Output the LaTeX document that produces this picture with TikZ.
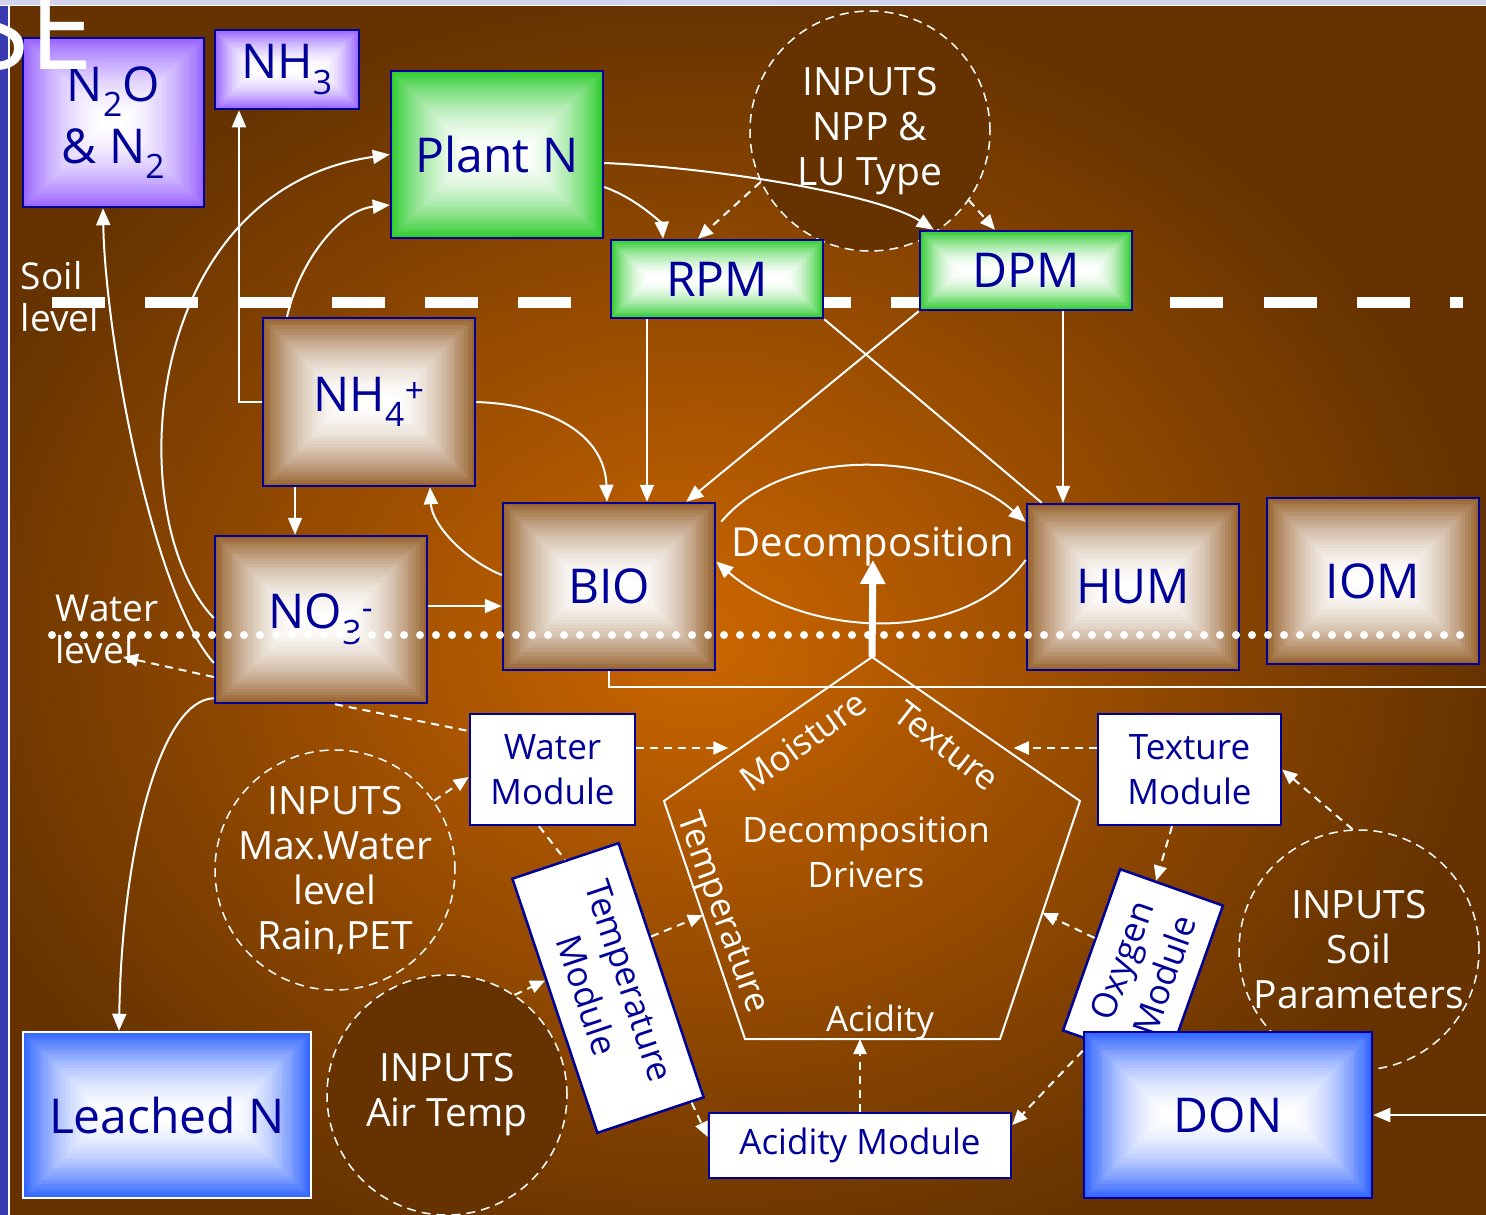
\documentclass[tikz,border=0pt]{standalone}
\usepackage{fontspec}
\setmainfont{Open Sans}
\usetikzlibrary{positioning,calc,arrows.meta}

\definecolor{bgdark}{HTML}{663300}
\definecolor{bgmid}{HTML}{CC6600}
\definecolor{boxline}{HTML}{000099}
\definecolor{boxtext}{HTML}{000099}
\definecolor{brownbox}{HTML}{996633}
\definecolor{purplebox}{HTML}{9966FF}
\definecolor{greenbox}{HTML}{33CC33}
\definecolor{bluebox}{HTML}{3366FF}
\definecolor{stripblue}{HTML}{3A3AB0}
\definecolor{striplav}{HTML}{D4D4EE}

\newcommand\bigfont{\fontsize{48}{62}\selectfont}
\newcommand\modfont{\fontsize{35}{45}\selectfont}
\newcommand\inpfont{\fontsize{39}{45}\selectfont}
\newcommand\lvlfont{\fontsize{37}{42}\selectfont}
\newcommand\decfont{\fontsize{40}{44}\selectfont}
\newcommand\titlefont{\fontsize{115}{120}\selectfont}

\tikzset{
  glowbox/.style={draw=boxline, line width=2.5pt, inner sep=0pt, text=boxtext,
    font=\bigfont, align=center,
    path picture={
      \foreach \i in {0,...,29}{
        \pgfmathsetmacro\pct{100*(1-\i/30)^1.8}
        \fill[#1!\pct!white] let \p1=(path picture bounding box.south west),
          \p2=(path picture bounding box.north east), \n1={\i*(\y2-\y1)/60}
          in (\x1+\n1,\y1+\n1) rectangle (\x2-\n1,\y2-\n1);
      }
    }},
  modbox/.style={draw=boxline, fill=white, line width=2.5pt, inner sep=0pt,
    text=boxtext, font=\modfont, align=center},
  inputs/.style={circle, draw=white, line width=1.5pt, dash pattern=on 9pt off 6pt,
    minimum size=240, inner sep=-25pt, text=white, font=\inpfont, align=center},
  drvlbl/.style={text=white, font=\modfont, align=center, inner sep=0pt},
  lvl/.style={text=white, font=\lvlfont, align=left, inner sep=0pt},
  link/.style={draw=white, line width=2pt},
  flow/.style={link, -{Triangle[length=17pt,width=14pt]}},
  hintline/.style={draw=white, line width=2pt, dash pattern=on 8pt off 6pt},
  hint/.style={hintline, -{Triangle[length=15pt,width=13pt]}},
  soilline/.style={white, line width=11pt, dash pattern=on 53pt off 40.2pt},
  waterline/.style={white, line width=8pt, line cap=round, dash pattern=on 0pt off 16pt},
}

\begin{document}
\begin{tikzpicture}[x=1pt,y=-1pt]
\useasboundingbox (0,0) rectangle (1486,1215);
% backdrop
\begin{scope}
\clip (0,0) rectangle (1486,1215);
\fill[bgdark] (0,0) rectangle (1486,1215);
\shade[inner color=bgmid, outer color=bgdark] (-80,0) rectangle (1480,1280);
\end{scope}
\fill[stripblue] (0,0) rectangle (8,1215);
\draw[white, line width=2pt] (9,0) -- (9,1215);
\fill[striplav] (0,0) rectangle (1486,5);
\draw[white, line width=1.5pt] (0,5.5) -- (1486,5.5);

% soil surface
\draw[soilline] (52,302) -- (1463,302);

% input circles
\node[inputs, fill=bgdark] (inpnpp) at (870,131) {INPUTS\\NPP \&\\LU Type};
\node[inputs] (inpwater) at (335,870) {INPUTS\\Max.Water\\level\\Rain,PET};
\node[inputs, fill=bgdark] (inpair) at (447,1095) {INPUTS\\Air Temp};
\node[inputs] (inpsoil) at (1359,950) {INPUTS\\Soil\\Parameters};

% pools
\node[glowbox=purplebox, minimum width=181, minimum height=169] (ntwoo) at (113.5,122.5) {N\textsubscript{2}O\\\& N\textsubscript{2}};
\node[glowbox=purplebox, minimum width=144, minimum height=79] (nhthree) at (287,69.5) {NH\textsubscript{3}};
\node[glowbox=greenbox, minimum width=212, minimum height=167] (plantn) at (497,154.5) {Plant N};
\node[glowbox=greenbox, minimum width=212, minimum height=78] (rpm) at (717,279) {RPM};
\node[glowbox=greenbox, minimum width=212, minimum height=79] (dpm) at (1026,270.5) {DPM};
\node[glowbox=brownbox, minimum width=212, minimum height=168] (nhfour) at (369,402) {NH\textsubscript{4}\textsuperscript{+}};
\node[glowbox=brownbox, minimum width=212, minimum height=167] (nothree) at (321,619.5) {NO\textsubscript{3}\textsuperscript{-}};
\node[glowbox=brownbox, minimum width=212, minimum height=167] (bio) at (609,586.5) {BIO};
\node[glowbox=brownbox, minimum width=212, minimum height=166] (hum) at (1133,587) {HUM};
\node[glowbox=brownbox, minimum width=212, minimum height=166] (iom) at (1373,581) {IOM};
\node[glowbox=bluebox, draw=white, minimum width=288, minimum height=166] (leached) at (167,1115) {Leached N};

% modules
\node[modbox, minimum width=165, minimum height=111] (watermod) at (552.5,769.5) {Water\\Module};
\node[modbox, minimum width=183, minimum height=111] (texturemod) at (1189.5,769.5) {Texture\\Module};
\node[modbox, minimum width=302, minimum height=65] (aciditymod) at (860,1145.5) {Acidity Module};
\node[modbox, minimum width=268, minimum height=112, rotate=-71.5] (tempmod) at (608,988) {Temperature\\Module};
\node[modbox, minimum width=171, minimum height=109, rotate=70.5] (oxymod) at (1143,968) {Oxygen\\Module};
\node[glowbox=bluebox, minimum width=288, minimum height=166] (don) at (1228,1115) {DON};

% decomposition drivers
\coordinate (ptop) at (872,657);
\coordinate (pr) at (1080,801);
\coordinate (pbr) at (1000,1039);
\coordinate (pbl) at (745,1039);
\coordinate (pl) at (664,801);
\draw[white, line width=2pt] (ptop) -- (pr) -- (pbr) -- (pbl) -- (pl) -- cycle;
\node[drvlbl, rotate=36] (moist) at (803,741) {Moisture};
\node[drvlbl, rotate=-38] (textu) at (947,746) {Texture};
\node[drvlbl, rotate=-70] (tempr) at (721,913) {Temperature};
\node[drvlbl] (acid) at (880,1022) {Acidity};
\node[drvlbl] (drivers) at (866,852) {Decomposition\\Drivers};
\node[text=white, font=\decfont, inner sep=0pt, anchor=base] (decomp) at (873,556) {Decomposition};
\draw[white, line width=7pt, -{Triangle[length=24pt,width=24pt]}] (ptop) -- ([yshift=-4pt]decomp.base);

% nitrogen flows
\draw[flow] ([yshift=-43.5pt]nothree.west) .. controls (150,590) and (105,330) .. ([xshift=-10.5pt]ntwoo.south);
\draw[flow] ([yshift=1.5pt]nothree.west) .. controls (120,520) and (140,190) .. (plantn.west);
\draw[flow] ([xshift=-82pt]nhfour.north) .. controls (300,260) and (340,210) .. ([yshift=-50.5pt]plantn.west);
\draw[flow] (nhfour.west) -| ([xshift=-48pt]nhthree.south);
\draw[flow] ([xshift=-74pt]nhfour.south) -- ([xshift=-26pt]nothree.north);
\draw[flow] ([yshift=11.5pt]bio.west) .. controls (465,560) and (432,525) .. ([xshift=61pt]nhfour.south);
\draw[flow] (nhfour.east) .. controls (560,405) and (605,440) .. ([xshift=-2pt]bio.north);
\draw[flow] ([yshift=13.5pt]nothree.east) -- ([yshift=-19.5pt]bio.west);
\draw[flow] ([yshift=6pt]nothree.south west) .. controls (160,700) and (122,850) .. ([xshift=-48pt]leached.north);

% carbon pools
\draw[flow] ([yshift=-32.5pt]plantn.east) .. controls (640,200) and (662,225) .. ([xshift=-54pt]rpm.north);
\draw[flow] ([yshift=-8.5pt]plantn.east) .. controls (720,168) and (880,195) .. ([xshift=15pt]dpm.north west);
\draw[flow] ([xshift=-70pt]rpm.south) -- ([xshift=38pt]bio.north);
\draw[flow] (dpm.south west) -- ([xshift=-30pt]bio.north east);
\draw[link] (rpm.south east) -- ([xshift=16pt]hum.north west);
\draw[flow] ([xshift=37pt]dpm.south) -- ([xshift=-70pt]hum.north);
\draw[flow] ([xshift=5pt,yshift=-20pt]bio.north east) .. controls (790,440) and (950,455) .. ([yshift=65pt]hum.west);
\draw[flow] ([yshift=27pt]hum.west) .. controls (960,650) and (800,635) .. ([yshift=25pt]bio.east);
\coordinate (bioout) at (1486,687);
\draw[link] (bio.south) |- (bioout);
\coordinate (donin) at (1486,1115);
\draw[flow] (donin) -- (don.east);

% driver links
\draw[hint] (inpnpp.205) -- ([xshift=-19pt]rpm.north);
\draw[hint] (inpnpp.-35) -- ([xshift=-31pt]dpm.north);
\coordinate (lvltip) at (123,657);
\draw[hint] ([yshift=-57.5pt]nothree.west) -- (lvltip);
\draw[hintline] ([xshift=14pt]nothree.south) -- ([yshift=38.5pt]watermod.west);
\draw[hint] ([yshift=21.5pt]watermod.east) -- ++(92,0);
\draw[hint] (inpwater.35) -- ([yshift=-7.5pt]watermod.west);
\draw[hintline] ([xshift=-13.5pt]watermod.south) -- (tempmod.west);
\draw[hint] (inpair.56) -- ($(tempmod.south west)!0.4!(tempmod.south east)$);
\draw[hint] ($(tempmod.north west)!0.37!(tempmod.north east)$) -- ($(pl)!0.48!(pbl)$);
\draw[hint] ($(tempmod.east)!0.75!(tempmod.north east)$) -- ([yshift=8.5pt]aciditymod.west);
\draw[hint] (aciditymod.north) -- (aciditymod.north |- pbl);
\draw[hint] ([yshift=-20pt]don.north west) -- ([yshift=20.5pt]aciditymod.east);
\draw[hint] ([yshift=21.5pt]texturemod.west) -- ++(-83,0);
\draw[hint] ([xshift=-17.5pt]texturemod.south) -- ($(oxymod.north east)!0.35!(oxymod.south east)$);
\draw[hint] ($(oxymod.north east)!0.43!(oxymod.north west)$) -- ($(pr)!0.47!(pbr)$);
\draw[hint] (inpsoil.93) -- (texturemod.east);

% water table
\draw[waterline] (52,635) -- (1462,635);
\node[lvl] (soillvl) at (60,297) {Soil\\level};
\node[lvl] (waterlvl) at (107,629) {Water\\level};

% slide title remnant
\node[anchor=base east, font=\titlefont, text=white, inner sep=0pt] (title) at (94,70) {SE};
\end{tikzpicture}
\end{document}
